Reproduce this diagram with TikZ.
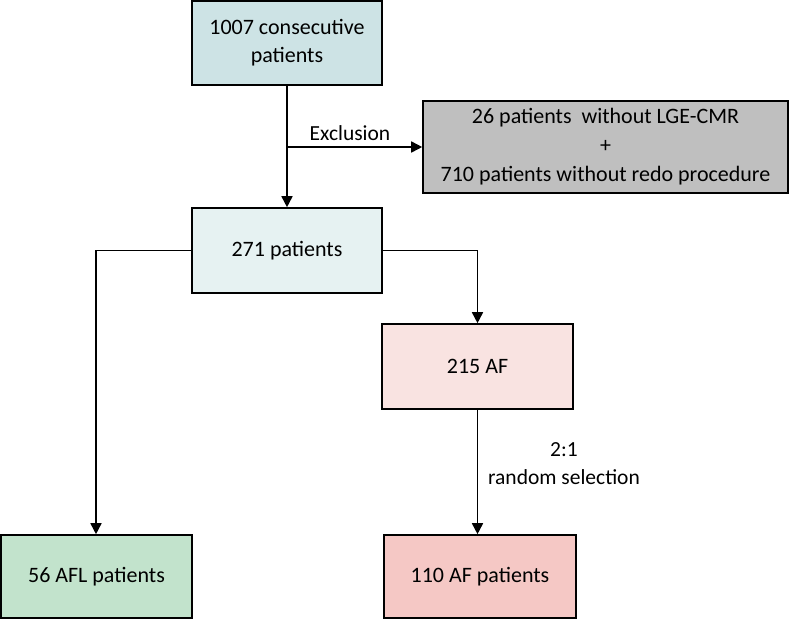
\documentclass[tikz,border=0pt]{standalone}
\usepackage{fontspec}
\setmainfont{Carlito}
\usetikzlibrary{arrows.meta,positioning,calc}

\definecolor{topblue}{HTML}{CDE3E5}
\definecolor{midblue}{HTML}{E6F2F2}
\definecolor{exgray}{HTML}{BFBFBF}
\definecolor{afpink}{HTML}{F9E3E1}
\definecolor{aflgreen}{HTML}{C2E3CC}
\definecolor{afred}{HTML}{F5C8C5}

\begin{document}
\begin{tikzpicture}[
    x=1pt,y=-1pt,
    box/.style={draw,line width=1.6pt,rounded corners=0pt,minimum width=190pt,minimum height=84pt,align=center,inner sep=2pt,
                font=\fontsize{22}{28}\selectfont},
    lbl/.style={align=center,font=\fontsize{21.5}{28}\selectfont},
    ->/.style={-{Triangle[length=11pt,width=11pt]}},
    line/.style={line width=1.6pt},
]
\useasboundingbox (0,0) rectangle (798,619);

% Boxes
\node[box,fill=topblue] (START) at (287,43) {1007 consecutive\\patients};
\node[box,fill=midblue,minimum height=85pt] (P271) at (287,250.5) {271 patients};
\node[box,fill=exgray,minimum width=365pt,minimum height=92pt,font=\fontsize{22}{29}\selectfont] (EXCL) at (605.5,147)
    {26 patients~ without LGE-CMR\\+\\710 patients without redo procedure};
\node[box,fill=afpink,minimum width=191pt,minimum height=85pt] (AF215) at (477.5,366.5) {215 AF};
\node[box,fill=aflgreen,minimum width=191pt,minimum height=83pt] (AFL56) at (96.5,576.5) {56 AFL patients};
\node[box,fill=afred,minimum width=192pt,minimum height=83pt] (AF110) at (480,576.5) {110 AF patients};

% Coords
\coordinate (excl_split) at (START.south |- EXCL.west);
\coordinate (left_turn) at (96,250.5);
\coordinate (right_turn) at (AF215.north |- P271.east);

% Arrows
\draw[line,->] (START.south) -- (P271.north);
\draw[line,->] (excl_split) -- (EXCL.west);
\node[lbl] (EXLBL) at (350,133) {Exclusion};

\draw[line,->] (P271.west) -- (left_turn) -- (left_turn |- AFL56.north);
\draw[line,->] (P271.east) -- (right_turn) -- (AF215.north);

\draw[line,->] (AF215.south) -- (AF215.south |- AF110.north);
\node[lbl] (SELLBL) at (564,464) {2:1\\random selection};

\end{tikzpicture}
\end{document}
